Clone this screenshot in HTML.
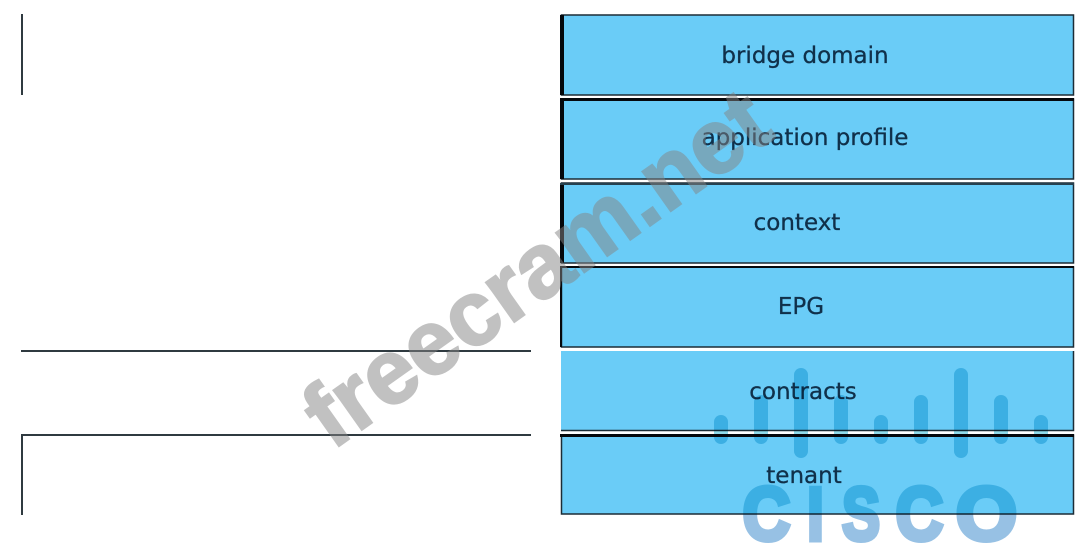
<!DOCTYPE html>
<html>
<head>
<meta charset="utf-8">
<style>
html,body{margin:0;padding:0;background:#fff;width:1089px;height:547px;overflow:hidden}
svg{display:block}
</style>
</head>
<body>
<svg width="1089" height="547" viewBox="0 0 1089 547" xmlns="http://www.w3.org/2000/svg">
<defs>
<linearGradient id="cg" gradientUnits="userSpaceOnUse" x1="0" y1="-70" x2="0" y2="10">
<stop offset="0" stop-color="#90dbeb"/>
<stop offset="0.55" stop-color="#90dbeb"/>
<stop offset="0.55" stop-color="#97c1e4"/>
<stop offset="1" stop-color="#97c1e4"/>
</linearGradient>
</defs>
<rect width="1089" height="547" fill="#fff"/>
<!-- left lines -->
<g fill="#2f3a40">
<rect x="21" y="14" width="2" height="81"/>
<rect x="21" y="434" width="2" height="81"/>
<rect x="21" y="350" width="510" height="2"/>
<rect x="21" y="434" width="510" height="2"/>
</g>
<!-- boxes -->
<g fill="#6accf7">
<rect x="561" y="15" width="513" height="80"/>
<rect x="561" y="99" width="513" height="80"/>
<rect x="561" y="183" width="513" height="80"/>
<rect x="561" y="267" width="513" height="80"/>
<rect x="561" y="351" width="513" height="79"/>
<rect x="561" y="435" width="513" height="79"/>
</g>
<g fill="none" stroke="#1c2c36" stroke-width="1.5">
<rect x="561.5" y="15" width="512" height="80"/>
<rect x="561.5" y="99" width="512" height="80"/>
<rect x="561.5" y="183" width="512" height="80"/>
<rect x="561.5" y="267" width="512" height="80"/>
<rect x="561.5" y="435" width="512" height="79"/>
<path d="M561 430.5H1073.5V351"/>
</g>
<g fill="#05080c">
<rect x="560" y="15" width="4" height="80"/>
<rect x="560" y="99" width="4" height="80"/>
<rect x="560" y="183" width="4" height="80"/>
<rect x="560" y="267" width="2" height="80"/>
<rect x="560" y="98" width="514" height="3"/>
<rect x="560" y="434" width="514" height="3"/>
<rect x="560" y="183" width="514" height="2" fill="#26404e"/>
<rect x="560" y="266" width="514" height="2"/>
</g>
<!-- labels -->
<g font-family="'DejaVu Sans',sans-serif" font-size="23" fill="#10304a" stroke="#10304a" stroke-width="0.3" text-anchor="middle">
<text x="805" y="63">bridge domain</text>
<text x="805" y="145">application profile</text>
<text x="797" y="230">context</text>
<text x="801" y="314">EPG</text>
<text x="803" y="399">contracts</text>
<text x="804" y="483">tenant</text>
</g>
<!-- watermark -->
<text transform="translate(332 451) rotate(-35.3)" font-family="'Liberation Sans',sans-serif" font-weight="bold" font-size="92" fill="#858585" stroke="#858585" stroke-width="2" opacity="0.5" textLength="545" lengthAdjust="spacingAndGlyphs">freecram.net</text>
<!-- cisco logo -->
<g style="mix-blend-mode:multiply">
<g fill="#90dbeb">
<rect x="714" y="415" width="14" height="29" rx="7"/>
<rect x="754" y="395" width="14" height="49" rx="7"/>
<rect x="794" y="368" width="14" height="90" rx="7"/>
<rect x="834" y="395" width="14" height="49" rx="7"/>
<rect x="874" y="415" width="14" height="29" rx="7"/>
<rect x="914" y="395" width="14" height="49" rx="7"/>
<rect x="954" y="368" width="14" height="90" rx="7"/>
<rect x="994" y="395" width="14" height="49" rx="7"/>
<rect x="1034" y="415" width="14" height="29" rx="7"/>
</g>
<g font-family="'Liberation Sans',sans-serif" font-weight="bold" font-size="75" text-anchor="middle" fill="url(#cg)" stroke="url(#cg)" stroke-width="5">
<text transform="translate(766.5 540) scale(0.88 1)">C</text>
<text transform="translate(815.5 540) scale(0.8 1)">I</text>
<text transform="translate(861 540) scale(0.76 1)">S</text>
<text transform="translate(919.5 540) scale(0.88 1)">C</text>
<text transform="translate(986.5 540) scale(1.05 1)">O</text>
</g>
</g>
</svg>
</body>
</html>
